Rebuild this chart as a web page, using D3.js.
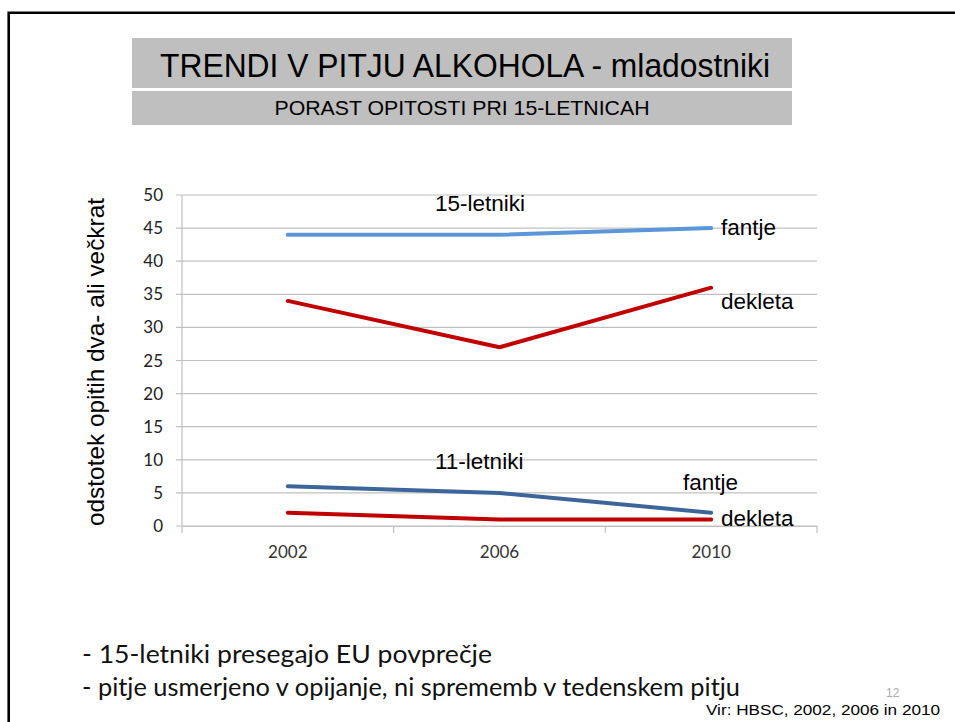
<!DOCTYPE html>
<html><head><meta charset="utf-8">
<script src="https://cdn.jsdelivr.net/npm/d3@7"></script>
<style>body{margin:0;background:#fff}svg{display:block}</style>
</head><body>
<svg id="c" width="955" height="722"></svg>
<script>
const years = ["2002", "2006", "2010"];
const fantje15 = [44, 44, 45];
const dekleta15 = [34, 27, 36];
const fantje11 = [6, 5, 2];
const dekleta11 = [2, 1, 1];
const yTicks = [0, 5, 10, 15, 20, 25, 30, 35, 40, 45, 50];

const svg = d3.select("#c");
const narrow = "'Liberation Sans Narrow', 'Arial Narrow', 'Liberation Sans', sans-serif";
// slide border (top and left)
svg.append("path").attr("d", "M8.7,730 L8.7,12.7 L960,12.7")
  .attr("fill", "none").attr("stroke", "#000").attr("stroke-width", 2.6);

// title boxes
svg.append("rect").attr("x", 132).attr("y", 38).attr("width", 660).attr("height", 50).attr("fill", "#bfbfbf");
svg.append("rect").attr("x", 132).attr("y", 91).attr("width", 660).attr("height", 34).attr("fill", "#bfbfbf");
svg.append("text").attr("x", 465).attr("y", 77).attr("text-anchor", "middle")
  .attr("font-family", narrow).attr("font-size", 33)
  .attr("textLength", 610).attr("lengthAdjust", "spacingAndGlyphs")
  .text("TRENDI V PITJU ALKOHOLA - mladostniki");
svg.append("text").attr("x", 462).attr("y", 115).attr("text-anchor", "middle")
  .attr("font-family", narrow).attr("font-size", 21)
  .attr("textLength", 375).attr("lengthAdjust", "spacingAndGlyphs")
  .text("PORAST OPITOSTI PRI 15-LETNICAH");

// chart
const x = d3.scaleBand().domain(years).range([182, 817]);
const y = d3.scaleLinear().domain([0, 50]).range([526, 195]);
const g = svg.append("g");

// gridlines
g.selectAll("line.grid").data(yTicks).join("line")
  .attr("x1", 176).attr("x2", 817)
  .attr("y1", d => y(d)).attr("y2", d => y(d))
  .attr("stroke", "#c0c0c0").attr("stroke-width", 1.2);
// y axis line
g.append("line").attr("x1", 182).attr("x2", 182).attr("y1", 195).attr("y2", 526)
  .attr("stroke", "#c0c0c0").attr("stroke-width", 1.2);
// x axis
const xa = g.append("g").attr("transform", "translate(0,526)")
  .call(d3.axisBottom(x).tickSize(0).tickPadding(20));
xa.select(".domain").attr("stroke", "#c0c0c0").attr("stroke-width", 1.2);
xa.selectAll("text").attr("font-family", "Lato, sans-serif").attr("font-size", 17).attr("fill", "#333");
// category tick marks between bands
const bounds = [x.range()[0]].concat(years.map(d => x(d) + x.bandwidth()));
g.selectAll("line.xt").data(bounds).join("line")
  .attr("x1", d => d).attr("x2", d => d).attr("y1", 526).attr("y2", 533)
  .attr("stroke", "#c0c0c0").attr("stroke-width", 1.2);
// y tick labels
g.selectAll("text.yt").data(yTicks).join("text")
  .attr("x", 163).attr("y", d => y(d) + 6).attr("text-anchor", "end")
  .attr("font-family", "Lato, sans-serif").attr("font-size", 17).attr("fill", "#222")
  .text(d => d);

// y axis title
svg.append("text").attr("transform", "translate(104,362) rotate(-90)").attr("text-anchor", "middle")
  .attr("font-family", "Liberation Sans, Arial, sans-serif").attr("font-size", 24)
  .attr("textLength", 328).attr("lengthAdjust", "spacingAndGlyphs")
  .text("odstotek opitih dva- ali večkrat");

// lines
const line = d3.line().x((d, i) => x(years[i]) + x.bandwidth() / 2).y(d => y(d));
const series = [
  {v: dekleta11, c: "#c00000"},
  {v: fantje11, c: "#3c6699"},
  {v: dekleta15, c: "#c00000"},
  {v: fantje15, c: "#5a96d8"}
];
g.selectAll("path.s").data(series).join("path")
  .attr("d", d => line(d.v)).attr("fill", "none").attr("stroke", d => d.c)
  .attr("stroke-width", 4).attr("stroke-linecap", "round").attr("stroke-linejoin", "round");

// annotations
const ann = [
  {t: "15-letniki", x: 435, y: 211},
  {t: "fantje", x: 721, y: 235},
  {t: "dekleta", x: 721, y: 309},
  {t: "11-letniki", x: 435, y: 469},
  {t: "fantje", x: 683, y: 490},
  {t: "dekleta", x: 721, y: 526}
];
svg.selectAll("text.ann").data(ann).join("text")
  .attr("x", d => d.x).attr("y", d => d.y)
  .attr("font-family", "Liberation Sans, Arial, sans-serif").attr("font-size", 22.5)
  .text(d => d.t);

// bullets
const bullets = ["-  15-letniki presegajo EU povprečje", "-  pitje usmerjeno v opijanje, ni sprememb v tedenskem pitju"];
const bLen = [410, 658];
svg.selectAll("text.b").data(bullets).join("text")
  .attr("x", 82).attr("y", (d, i) => 663 + i * 33)
  .attr("font-family", "Lato, sans-serif").attr("font-size", 25).attr("fill", "#111")
  .attr("textLength", (d, i) => bLen[i]).attr("lengthAdjust", "spacingAndGlyphs")
  .text(d => d);
svg.append("text").attr("x", 886).attr("y", 697).attr("font-family", narrow)
  .attr("font-size", 12).attr("fill", "#aaa").text("12");
svg.append("text").attr("x", 940).attr("y", 715).attr("text-anchor", "end")
  .attr("font-family", narrow).attr("font-size", 15)
  .attr("textLength", 234).attr("lengthAdjust", "spacingAndGlyphs")
  .text("Vir: HBSC, 2002, 2006 in 2010");
</script>
</body></html>
